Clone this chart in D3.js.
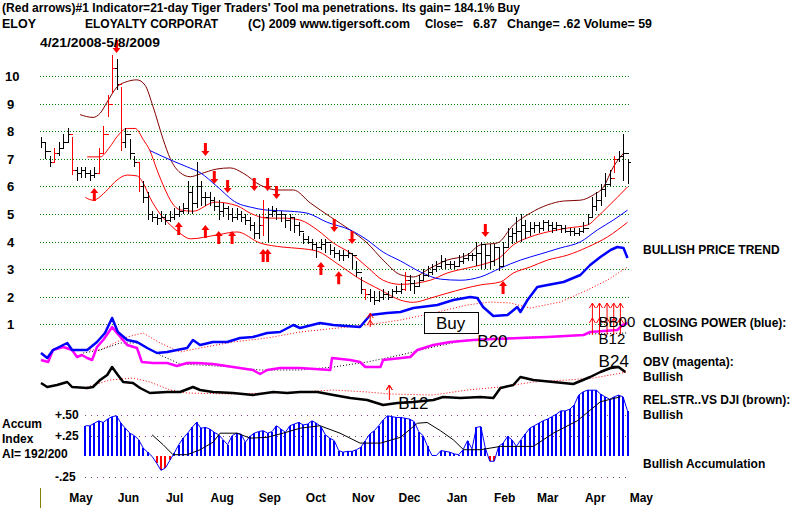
<!DOCTYPE html>
<html>
<head>
<meta charset="utf-8">
<script src="https://cdn.jsdelivr.net/npm/d3@7"></script>
<style>
  body { margin: 0; background: #fff; }
  svg { display: block; font-family: "Liberation Sans", Arial, sans-serif; }
  .bold { font-weight: bold; font-size: 12px; fill: #000; }
  .sig { font-size: 17px; fill: #000; }
</style>
</head>
<body>
<div id="chart"></div>
<script>
// ---- price bars (every other trading day, 4/21/2008 - 5/8/2009)
const highs = [
  7.8,7.6,7.1,7.4,7.6,7.9,8.1,7.8,6.7,6.7,
  6.7,6.6,6.7,7.4,8.2,9.3,10.75,10.6,9.6,8.1,
  7.7,7.1,6.9,6.2,5.8,5.1,5.0,5.1,5.0,5.1,
  5.2,5.3,5.4,6.2,6.0,6.9,6.2,5.8,5.8,5.6,
  5.5,5.4,5.3,5.2,5.2,5.1,5.0,4.9,4.7,5.0,
  5.5,5.2,5.3,5.2,5.1,5.0,5.0,4.9,4.7,4.3,
  4.2,4.1,4.0,4.1,4.1,3.9,3.8,3.7,3.7,3.7,
  3.6,3.3,2.7,2.3,2.3,2.2,2.2,2.3,2.2,2.3,
  2.4,2.5,2.9,2.8,2.6,2.8,3.0,3.1,3.2,3.3,
  3.5,3.4,3.3,3.3,3.5,3.6,3.6,3.6,4.0,4.0,
  3.9,3.9,3.9,3.8,4.0,4.5,4.5,4.9,5.0,4.8,
  4.7,4.7,4.7,4.8,4.8,4.7,4.7,4.6,4.6,4.5,
  4.5,4.5,4.7,5.0,5.6,5.8,6.1,6.5,6.6,7.1,
  7.3,7.9,7.0];
const lows = [
  7.4,7.0,6.7,6.9,7.1,7.4,7.6,6.4,6.2,6.3,
  6.3,6.2,6.3,6.5,7.2,8.5,9.4,9.5,7.3,7.4,
  7.0,6.7,5.8,5.4,4.8,4.7,4.6,4.7,4.6,4.7,
  4.8,4.9,5.0,5.0,5.0,5.2,5.3,5.3,5.3,5.1,
  4.8,4.9,4.8,4.7,4.8,4.7,4.6,4.4,4.1,4.1,
  4.2,4.0,4.9,4.8,4.7,4.5,4.4,4.3,4.2,3.9,
  3.9,3.7,3.4,3.7,3.6,3.5,3.4,3.3,3.3,3.4,
  3.0,2.7,2.1,1.9,1.8,1.7,1.8,1.9,1.9,2.0,
  2.1,2.1,2.2,2.2,2.1,2.4,2.6,2.7,2.8,2.9,
  3.0,3.0,3.0,3.0,3.1,3.2,3.3,3.3,3.1,3.0,
  3.0,3.0,3.1,2.95,3.1,3.8,3.9,4.0,4.0,4.1,
  4.2,4.3,4.3,4.4,4.4,4.3,4.4,4.3,4.3,4.2,
  4.2,4.2,4.3,4.6,4.9,5.1,5.3,5.6,6.0,6.5,
  6.9,6.2,6.1];
const closes = [
  7.6,7.3,6.9,7.2,7.4,7.6,7.9,6.6,6.5,6.6,
  6.5,6.4,6.5,7.2,7.9,9.0,10.3,9.7,7.6,7.9,
  7.2,6.9,6.0,5.6,5.0,4.9,4.85,4.9,4.8,4.9,
  5.0,5.1,5.2,5.8,5.4,6.0,5.6,5.6,5.5,5.3,
  5.1,5.2,5.0,4.9,5.0,4.9,4.8,4.6,4.3,4.6,
  4.9,5.0,5.1,5.0,5.0,4.8,4.9,4.6,4.4,4.1,
  4.0,3.9,3.8,3.9,4.0,3.7,3.6,3.5,3.5,3.6,
  3.5,2.9,2.3,2.1,2.0,1.9,2.0,2.1,2.0,2.2,
  2.2,2.3,2.6,2.5,2.4,2.6,2.8,2.9,3.0,3.1,
  3.3,3.2,3.2,3.1,3.3,3.4,3.5,3.5,3.6,3.9,
  3.5,3.3,3.8,3.1,3.8,4.2,4.3,4.4,4.6,4.4,
  4.5,4.6,4.5,4.7,4.6,4.5,4.6,4.5,4.4,4.4,
  4.3,4.4,4.5,4.9,5.3,5.5,5.9,6.1,6.3,7.0,
  7.1,7.2,6.87];
const redBars = [3, 7, 13, 14, 15, 16, 18, 22, 50, 73, 82, 129];

// ---- bands and moving average [bar index, price]
const bandDark = [[8.8,8.6],[11.7,8.5],[13.3,8.65],[14.9,9.06],[17.1,9.6],[19.4,9.8],[21.6,9.86],[23.4,9.67],[25.2,8.9],[27.5,7.7],[29.1,7.0],[31.3,6.5],[33.6,6.35],[35.8,6.45],[39.6,6.63],[42.6,6.67],[45.5,6.48],[49.3,6.05],[53.2,5.87],[56.8,5.87],[60.6,5.4],[65.1,4.9],[69.6,4.42],[73.4,3.95],[77,3.33],[80.9,2.8],[83.8,2.72],[87.6,3.04],[91.4,3.33],[95.9,3.51],[98.9,3.88],[102.7,3.95],[106.3,4.6],[110.1,5.03],[114,5.33],[117.6,5.47],[121.4,5.5],[124.3,5.69],[126.6,5.98],[128.8,6.7],[131.1,7.2]];
const bandUpper = [[10.4,7.07],[13.3,7.07],[15.5,7.43],[17.1,7.8],[19.4,8.1],[21.2,8.1],[23,7.7],[24.5,7.3],[26.1,6.6],[27.9,5.9],[29.5,5.4],[31.3,5.15],[34.2,5.1],[39.2,5.43],[44.1,5.3],[47.1,5.03],[50.9,4.85],[54.5,4.85],[58.3,4.78],[62.2,4.42],[65.8,3.95],[69.6,3.59],[73.4,3.08],[77,2.6],[80.9,2.45],[87.6,2.6],[91.4,2.86],[95.9,3.04],[98.9,3.15],[103.4,3.44],[106.3,3.88],[110.1,4.17],[114,4.35],[118.5,4.49],[123,4.6],[125.2,4.89],[127.5,5.25],[129.7,5.6],[132,5.98]];
const bandLower = [[10,5.6],[11.7,5.5],[14.9,5.87],[17.1,6.23],[19.4,6.41],[21.6,6.38],[23,6.12],[24.5,5.6],[26.8,5.0],[29.1,4.6],[31.3,4.3],[33.6,4.1],[39.6,4.24],[44.1,4.35],[49.3,3.95],[54.5,3.8],[58.3,3.75],[62.2,3.65],[66.7,3.2],[71.2,2.7],[76.4,2.25],[80.9,1.88],[83.8,1.8],[87.6,1.95],[91.4,2.13],[98.9,2.43],[103.4,2.54],[106.3,2.86],[110.1,3.08],[114,3.33],[118.5,3.51],[123,3.8],[127.5,4.17],[132,4.7]];
const ma50 = [[24.5,7.3],[29.1,6.96],[33,6.7],[35.8,6.5],[39.6,6.0],[44.1,5.4],[47.1,5.25],[50.9,5.14],[56.1,5.1],[59.9,5.03],[64.4,4.7],[69.6,4.42],[73.4,4.06],[77,3.62],[80.9,3.3],[85.4,2.9],[89.9,2.64],[94.4,2.6],[98.9,2.72],[103.4,3.04],[107.9,3.33],[112.4,3.55],[116.9,3.77],[121.4,3.99],[125.2,4.42],[128.8,4.78],[132,5.14]];

// ---- Tiger arrows [bar index, tip price]
const upArrows = [[12,5.94],[31,4.71],[37,4.6],[40,4.38],[43,4.38],[50,3.73],[51,3.73],[63,3.26],[67,2.93],[104,2.57]];
const downArrows = [[17,10.83],[37,7.1],[39,6.09],[42,5.76],[48,5.83],[51,5.83],[53,5.54],[66,4.35],[70,3.91],[100,4.17]];

// ---- indicators [bar index, value in own units]
const closingPower = [[0,2],[1.4,-3],[2.7,5],[5.9,12],[7,5],[10.4,5],[12.6,13],[14.4,22],[16,37],[17.3,23],[19.4,15],[21.6,13],[23.9,7],[26.1,2],[28.4,3],[30.6,5],[32.9,7],[34.2,15],[35.8,10],[38.7,13],[41.9,13],[44.8,17],[47.7,18],[50.9,22],[53.8,23],[56.8,30],[58.3,27],[62.8,32],[65.8,30],[71.8,28],[74.1,40],[77.9,42],[80.9,43],[83.8,47],[89.2,50],[92.8,55],[96.6,58],[98.2,57],[99.5,48],[101.8,39],[105,40],[107.2,48],[107.9,43],[109.5,55],[111.7,68],[114,70],[117.6,73],[121.4,80],[123.6,90],[125.9,98],[128.2,105],[129.7,108],[131.1,107],[132,97]];
const closingPowerMa = [[11,5],[13.3,5],[19.4,18],[23,22],[26.8,12],[31.3,3],[35.8,7],[43.2,13],[50.9,17],[58.3,23],[73.4,30],[80.9,35],[88.3,42],[95.9,50],[101.1,53],[105.6,52],[110.1,47],[116.9,53],[123,65],[127.5,75],[132,88]];
const obv = [[0,15],[1.6,13],[2.7,25],[5,28],[7,25],[8.1,18],[9.2,20],[10.4,17],[11.5,15],[12.6,28],[14,35],[15.1,42],[16,48],[17.1,42],[19.4,30],[21.6,27],[22.7,13],[25.2,12],[28.4,12],[30.6,9],[32.9,12],[35.1,12],[38.7,11],[43.2,8],[47.7,5],[49.3,1],[50.9,5],[53.8,7],[58.3,7],[65.1,5],[65.5,17],[69.6,15],[71.8,13],[73,8],[76.4,8],[77,15],[83.1,18],[84.7,25],[88.3,30],[92.1,33],[97.3,35],[101.8,36],[107.9,37],[114,38],[122.1,40],[123.6,43],[129.7,45],[130.9,50],[132,52]];
const obvMa = [[9.5,22],[13.3,25],[17.8,32],[22.3,32],[26.8,20],[31.3,11],[35.8,10],[43.2,8],[49.3,5],[58.3,5],[65.8,8],[73.4,13],[80.9,20],[88.3,28],[95.9,35],[103.4,37],[110.8,38],[118.5,39],[123.6,41],[132,42]];
const relStr = [[0,27],[1.4,23],[3.6,25],[5.9,28],[7,23],[10.4,22],[11.7,23],[13.3,30],[14.9,35],[16,43],[17.3,35],[18.5,28],[20.7,27],[22.3,22],[24.5,17],[28.4,18],[31.3,18],[34.2,23],[35.8,20],[38.7,18],[43.2,17],[47.7,15],[52.3,18],[55.4,17],[58.3,18],[62.2,18],[65.8,15],[69.6,12],[73.4,10],[77,5],[80.2,7],[83.8,8],[88.3,10],[90.5,13],[94.4,12],[98.9,13],[101.8,12],[103.4,22],[106.3,25],[107.9,33],[110.8,30],[115.3,28],[119.8,26],[123.6,33],[125.9,38],[128.2,42],[130,43],[131.5,38]];
const relStrMa = [[10.4,23],[15.5,30],[20.7,32],[24.5,28],[29.1,20],[32.9,17],[43.2,16],[50.9,17],[58.3,18],[65.8,20],[73.4,18],[78.6,16],[88.3,15],[95.9,20],[103.4,23],[110.8,28],[118.5,30],[124.3,32],[132,38]];

// ---- accumulation index, one value per bar from bar 10
const aiStart = 10;
const accum = [
  0.37,0.37,0.40,0.43,0.41,0.45,0.48,0.49,0.40,0.34,
  0.28,0.25,0.20,0.10,0.05,0.0,-0.08,-0.17,-0.14,-0.05,
  0.04,0.14,0.22,0.28,0.35,0.41,0.34,0.35,0.33,0.29,
  0.26,0.20,0.14,0.25,0.28,0.27,0.17,0.24,0.28,0.30,
  0.31,0.28,0.30,0.37,0.33,0.29,0.37,0.39,0.41,0.38,
  0.39,0.43,0.40,0.36,0.26,0.22,0.19,0.07,0.05,0.06,
  0.06,0.08,0.11,0.19,0.27,0.31,0.37,0.44,0.49,0.48,
  0.47,0.47,0.46,0.45,0.42,0.30,0.25,0.12,0.01,0.01,
  0.07,0.06,0.05,0.03,0.02,0.08,0.19,0.09,0.35,0.36,
  0.10,-0.06,-0.06,0.12,0.16,0.24,0.20,0.12,0.20,0.27,
  0.34,0.37,0.40,0.43,0.45,0.48,0.51,0.55,0.55,0.57,
  0.62,0.74,0.78,0.80,0.80,0.80,0.75,0.72,0.69,0.72,
  0.74,0.72,0.55];
const accumMa = [[25,0.26],[27.5,0.14],[29.7,0.02],[32.9,0.02],[35.8,0.08],[38.7,0.17],[40.3,0.28],[44.1,0.28],[47.1,0.22],[50.9,0.23],[54.5,0.28],[58.3,0.34],[62.8,0.37],[67.3,0.28],[71.8,0.16],[76.4,0.16],[80.9,0.23],[84.7,0.40],[86.9,0.41],[89.9,0.31],[92.8,0.2],[95.1,0.08],[98.9,0.08],[103.4,0.12],[107.2,0.12],[110.8,0.12],[115.3,0.28],[120.7,0.43],[125.9,0.66],[130.4,0.72]];

// ---- axes labels
const priceTicks = [1,2,3,4,5,6,7,8,9,10];
const accumTicks = [[0.5,'+.50'],[0.25,'+.25'],[-0.25,'-.25']];
const monthLabels = ['May','Jun','Jul','Aug','Sep','Oct','Nov','Dec','Jan','Feb','Mar','Apr','May'];

// ---- signals
const thinArrows = [[74.1,28,42,35],[124.1,20,52,37],[125.7,20,52,37],[127.4,20,52,37],[128.9,20,52,37],[130.4,20,52,37]];
const bigSignals = [
  { text: 'B20', i: 98.2, panel: 'obv', v: 28, size: 17 },
  { text: 'B12', i: 80.4, panel: 'rs', v: 1, size: 17 },
  { text: 'BB00', i: 125.5, panel: 'obv', v: 48, size: 15 },
  { text: 'B12', i: 125.5, panel: 'obv', v: 31, size: 15 },
  { text: 'B24', i: 125.5, panel: 'rs', v: 43, size: 17 }
];

const svgWidth = 800;
const svgHeight = 508;

const svg = d3.select('#chart')
  .append('svg')
  .attr('width', svgWidth)
  .attr('height', svgHeight);

// scales
const x = d3.scaleLinear().domain([0, closes.length - 1]).range([41, 627.5]);
const xTime = d3.scaleTime()
  .domain([new Date(2008, 3, 21), new Date(2009, 4, 8)])
  .range([41, 627.5]);
const y = d3.scaleLinear().domain([0, 10]).range([352, 76]);
const yCP = d3.scaleLinear().domain([0, 100]).range([355, 255]);
const yOBV = d3.scaleLinear().domain([0, 60]).range([375, 315]);
const yRS = d3.scaleLinear().domain([0, 50]).range([410, 360]);
const yAI = d3.scaleLinear().domain([-0.25, 0.5]).range([477, 415]);
const panelScale = { obv: yOBV, rs: yRS, cp: yCP };

// price grid
svg.append('g').selectAll('line')
  .data(priceTicks)
  .enter().append('line')
  .attr('x1', 40).attr('x2', 630)
  .attr('y1', d => Math.round(y(d)) + 0.5)
  .attr('y2', d => Math.round(y(d)) + 0.5)
  .attr('stroke', '#008000')
  .attr('stroke-dasharray', '1,2');

svg.append('g').selectAll('text')
  .data(priceTicks)
  .enter().append('text')
  .attr('x', d => d === 10 ? 5 : 7)
  .attr('y', d => y(d) + 5)
  .attr('font-size', 13)
  .attr('font-weight', 'bold')
  .text(d => d);

// accum grid
svg.append('g').selectAll('line')
  .data(accumTicks)
  .enter().append('line')
  .attr('x1', 85).attr('x2', 630)
  .attr('y1', d => Math.round(yAI(d[0])) + 0.5)
  .attr('y2', d => Math.round(yAI(d[0])) + 0.5)
  .attr('stroke', '#804080')
  .attr('stroke-dasharray', '1,5');

svg.append('g').selectAll('text')
  .data(accumTicks)
  .enter().append('text')
  .attr('class', 'bold')
  .attr('x', 55)
  .attr('y', d => yAI(d[0]) + 4)
  .text(d => d[1]);

// smooth band lines
const bandLine = d3.line()
  .x(d => x(d[0]))
  .y(d => y(d[1]))
  .curve(d3.curveMonotoneX);

[[bandDark, '#800000'], [bandUpper, '#ff0000'], [bandLower, '#ff0000'], [ma50, '#0000ff']]
  .forEach(([data, color]) => {
    svg.append('path')
      .attr('d', bandLine(data))
      .attr('fill', 'none')
      .attr('stroke', color)
      .attr('stroke-width', 1);
  });

// price bars
const bars = svg.append('g').attr('shape-rendering', 'crispEdges');
closes.forEach((c, i) => {
  const color = redBars.includes(i) ? '#ff0000' : '#000';
  const bx = Math.round(x(i)) + 0.5;
  bars.append('line')
    .attr('x1', bx).attr('x2', bx)
    .attr('y1', y(highs[i])).attr('y2', y(lows[i]))
    .attr('stroke', color).attr('stroke-width', 1);
  bars.append('line')
    .attr('x1', bx).attr('x2', bx + 2.5)
    .attr('y1', Math.round(y(c)) + 0.5).attr('y2', Math.round(y(c)) + 0.5)
    .attr('stroke', color).attr('stroke-width', 1);
  if (i > 0) {
    bars.append('line')
      .attr('x1', bx - 2.5).attr('x2', bx)
      .attr('y1', Math.round(y(closes[i - 1])) + 0.5).attr('y2', Math.round(y(closes[i - 1])) + 0.5)
      .attr('stroke', color).attr('stroke-width', 1);
  }
});

// fat red arrows: dir 1 = up (body below tip), -1 = down
function fatArrow(cx, tipY, dir) {
  const b = (dy) => tipY + dir * dy;
  const pts = [[cx, tipY], [cx + 4, b(5)], [cx + 1.5, b(5)], [cx + 1.5, b(13)],
    [cx - 1.5, b(13)], [cx - 1.5, b(5)], [cx - 4, b(5)]];
  svg.append('polygon')
    .attr('points', pts.map(p => p.join(',')).join(' '))
    .attr('fill', '#ff0000');
}
upArrows.forEach(d => fatArrow(x(d[0]), y(d[1]), 1));
downArrows.forEach(d => fatArrow(x(d[0]), y(d[1]), -1));

// indicator lines
const indLine = (scale) => d3.line().x(d => x(d[0])).y(d => scale(d[1]));

function drawInd(data, scale, color, width, dash) {
  svg.append('path')
    .attr('d', indLine(scale)(data))
    .attr('fill', 'none')
    .attr('stroke', color)
    .attr('stroke-width', width)
    .attr('stroke-dasharray', dash || null)
    .attr('stroke-linejoin', 'round');
}
drawInd(closingPowerMa, yCP, '#ff0000', 1, '1,2');
drawInd(obvMa, yOBV, '#000', 1, '1,2');
drawInd(relStrMa, yRS, '#ff0000', 1, '1,2');
drawInd(relStr, yRS, '#000', 2.5);
drawInd(obv, yOBV, '#ff00ff', 2.5);
drawInd(closingPower, yCP, '#0000ff', 2.5);

// accumulation histogram
const ai = svg.append('g').attr('shape-rendering', 'crispEdges');
accum.forEach((v, k) => {
  const i = k + aiStart;
  ai.append('line')
    .attr('x1', x(i)).attr('x2', x(i))
    .attr('y1', yAI(0)).attr('y2', yAI(v))
    .attr('stroke', v < 0 ? '#ff0000' : '#0000ff')
    .attr('stroke-width', 2);
});
svg.append('path')
  .attr('d', d3.line().x((d, k) => x(k + aiStart)).y(d => yAI(d))(accum))
  .attr('fill', 'none')
  .attr('stroke', '#0000ff')
  .attr('stroke-width', 1);
svg.append('path')
  .attr('d', d3.line().x(d => x(d[0])).y(d => yAI(d[1]))(accumMa))
  .attr('fill', 'none')
  .attr('stroke', '#000')
  .attr('stroke-width', 1);

// thin red signal arrows [index, bottom, top, second head] in closing power units
function thinArrow(cx, yb, yt, yh) {
  const g = svg.append('g').attr('stroke', '#ff0000').attr('stroke-width', 1).attr('fill', 'none');
  g.append('line').attr('x1', cx).attr('x2', cx).attr('y1', yb).attr('y2', yt);
  [yt, yh].forEach(hy => {
    g.append('polyline').attr('points', `${cx - 3},${hy + 5} ${cx},${hy} ${cx + 3},${hy + 5}`);
  });
}
thinArrows.forEach(d => thinArrow(x(d[0]), yCP(d[1]), yCP(d[2]), yCP(d[3])));
thinArrow(x(78.4), yRS(10), yRS(25), yRS(25));

// Buy box
const buyTop = yCP(43), buyBot = yCP(22);
svg.append('rect')
  .attr('x', Math.round(x(86.1)) + 0.5).attr('y', Math.round(buyTop) + 0.5)
  .attr('width', 54).attr('height', buyBot - buyTop)
  .attr('fill', '#fff').attr('stroke', '#000');
svg.append('text')
  .attr('class', 'sig')
  .attr('x', x(86.1) + 27).attr('y', buyBot - 4)
  .attr('text-anchor', 'middle')
  .text('Buy');

// big signal labels
svg.append('g').selectAll('text')
  .data(bigSignals)
  .enter().append('text')
  .attr('class', 'sig')
  .attr('font-size', d => d.size)
  .style('font-size', d => d.size + 'px')
  .attr('x', d => x(d.i))
  .attr('y', d => panelScale[d.panel](d.v))
  .text(d => d.text);

// month labels at mid-month
svg.append('g').selectAll('text')
  .data(monthLabels)
  .enter().append('text')
  .attr('class', 'bold')
  .attr('text-anchor', 'middle')
  .attr('x', (d, i) => xTime(new Date(2008, 4 + i, 17)))
  .attr('y', 502)
  .text(d => d);

svg.append('line')
  .attr('x1', 40.5).attr('x2', 40.5).attr('y1', 488).attr('y2', 508)
  .attr('stroke', '#808000').attr('stroke-width', 1);

// header and side texts
function label(t, lx, ly, len) {
  const el = svg.append('text').attr('class', 'bold').attr('x', lx).attr('y', ly).text(t);
  if (len) el.attr('textLength', len).attr('lengthAdjust', 'spacingAndGlyphs');
}
label("(Red arrows)#1 Indicator=21-day Tiger Traders' Tool ma penetrations.", 2, 12, 396);
label('Its gain= 184.1% Buy', 402, 12, 118);
label('ELOY', 2, 28, 34);
label('ELOYALTY CORPORAT', 85, 28, 133);
label('(C) 2009 www.tigersoft.com', 248, 28, 162);
label('Close=', 425, 28, 38);
label('6.87', 473, 28, 24);
label('Change= .62 Volume= 59', 507, 28, 145);
label('4/21/2008-5/8/2009', 40, 47, 120);

label('BULLISH PRICE TREND', 643, 254);
label('CLOSING POWER (blue):', 643, 327);
label('Bullish', 643, 341);
label('OBV (magenta):', 643, 366);
label('Bullish', 643, 381);
label('REL.STR..VS DJI (brown):', 643, 404);
label('Bullish', 643, 419);
label('Bullish Accumulation', 643, 468);

label('Accum', 2, 428);
label('Index', 2, 443);
label('AI= 192/200', 2, 458);
</script>
</body>
</html>
